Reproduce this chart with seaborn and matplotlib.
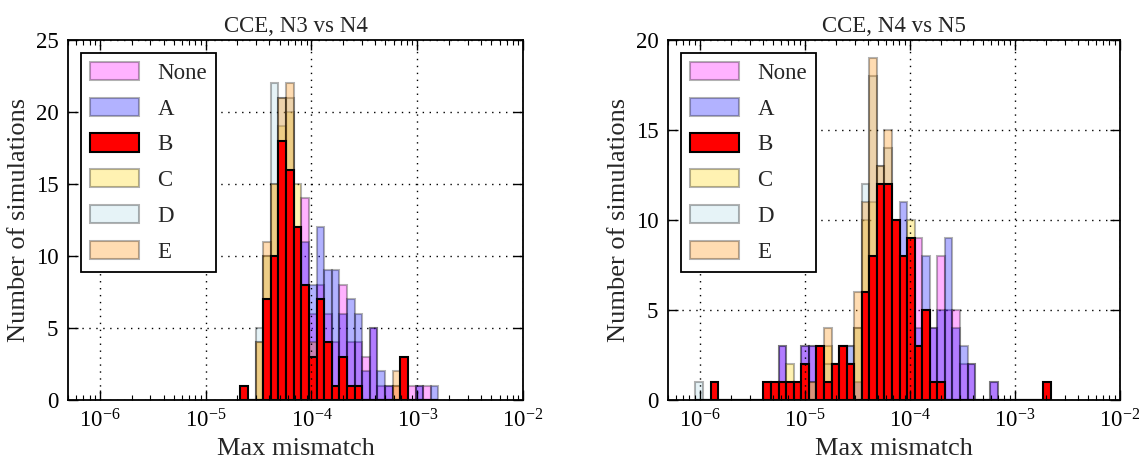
import numpy as np
import pandas as pd
import matplotlib
matplotlib.use("Agg")
import matplotlib.pyplot as plt
import seaborn as sns

# Series names and colours (legend order)
series = ["None", "A", "B", "C", "D", "E"]
colors = ["magenta", "blue", "red", "gold", "lightblue", "darkorange"]

# Histogram bins are equal steps in log10(mismatch): edge_k = 10**(log_start + log_step*k)
log_start = -5.896
log_step = 0.072

# ---- CCE, N3 vs N4 : counts per bin, bins k = 17..42
n3n4_bins = list(range(17, 43))
n3n4_none = [0, 0, 0, 0, 4, 9, 10, 9, 14, 6, 8, 6, 4, 8, 4, 4, 3, 5, 1, 1, 1, 0, 1, 1, 1, 0]
n3n4_a = [0, 0, 0, 0, 2, 5, 7, 8, 11, 8, 12, 9, 9, 6, 7, 6, 2, 5, 2, 1, 0, 1, 0, 1, 0, 1]
n3n4_b = [1, 0, 0, 7, 10, 18, 16, 12, 8, 3, 7, 4, 1, 3, 1, 1, 0, 0, 0, 0, 0, 3, 0, 0, 0, 0]
n3n4_c = [0, 0, 4, 10, 15, 19, 20, 15, 7, 2, 2, 1, 0, 1, 0, 0, 0, 0, 0, 0, 1, 0, 0, 0, 0, 0]
n3n4_d = [0, 0, 5, 10, 22, 21, 21, 12, 5, 2, 1, 0, 0, 0, 0, 0, 0, 0, 0, 0, 0, 0, 0, 0, 0, 0]
n3n4_e = [0, 0, 4, 11, 15, 21, 22, 12, 6, 4, 1, 1, 0, 2, 0, 0, 0, 0, 0, 0, 2, 0, 0, 0, 0, 0]

# ---- CCE, N4 vs N5 : counts per bin, bins k = -2..44
n4n5_bins = list(range(-2, 45))
n4n5_none = ([0, 0, 0, 0, 0, 0, 0, 0, 0, 0, 0] + [3, 0, 0, 3, 3, 0, 1, 0, 1, 2, 1]
             + [3, 5, 8, 8, 8, 7, 7, 9, 5, 4] + [8, 5, 5, 2, 2, 0, 0, 1, 0, 0, 0, 0, 0, 0, 0])
n4n5_a = ([0, 0, 0, 0, 0, 0, 0, 0, 0, 0, 0] + [3, 0, 0, 3, 3, 1, 1, 1, 1, 3, 1]
          + [3, 4, 6, 6, 7, 11, 5, 4, 8, 4] + [5, 9, 4, 3, 2, 0, 0, 1, 0, 0, 0, 0, 0, 0, 0])
n4n5_b = ([0, 0, 1, 0, 0, 0, 0, 0, 0, 1, 1] + [1, 1, 1, 2, 0, 3, 1, 2, 3, 2, 0]
          + [6, 8, 12, 12, 10, 8, 9, 3, 5, 1] + [1, 0, 0, 0, 0, 0, 0, 0, 0, 0, 0, 0, 0, 0, 1])
n4n5_c = ([0, 0, 0, 0, 0, 0, 0, 0, 0, 0, 1] + [0, 2, 1, 1, 1, 1, 3, 2, 2, 1, 4]
          + [10, 11, 10, 10, 9, 7, 10, 3, 2, 1] + [0] * 15)
n4n5_d = ([1, 0, 0, 0, 0, 0, 0, 0, 0, 0, 0] + [0, 0, 0, 0, 0, 0, 2, 2, 3, 3, 4]
          + [12, 18, 13, 14, 10, 6, 4, 2, 1, 0] + [0] * 15)
n4n5_e = ([0] * 11 + [0, 1, 0, 0, 1, 2, 4, 2, 3, 2, 6]
          + [11, 19, 13, 15, 9, 5, 3, 2, 1, 0] + [0] * 15)

titles = ["CCE, N3 vs N4", "CCE, N4 vs N5"]
ymaxes = [25, 20]

sns.set_style("white")
plt.rcParams.update({
    "font.family": ["Liberation Serif", "DejaVu Serif"],
    "mathtext.fontset": "stix",
    "xtick.direction": "in", "ytick.direction": "in",
    "xtick.top": True, "ytick.right": True,
    "xtick.bottom": True, "ytick.left": True,
    "xtick.major.size": 7, "ytick.major.size": 7,
    "xtick.minor.size": 3.5, "ytick.minor.size": 3.5,
    "xtick.major.width": 1, "ytick.major.width": 1,
    "xtick.minor.width": 0.8,
    "xtick.major.pad": 7, "ytick.major.pad": 7,
    "axes.edgecolor": "black", "axes.linewidth": 1.3,
    "xtick.color": "black", "ytick.color": "black",
})


def draw_panel(ax, bins, counts, title, ymax):
    bins = np.asarray(bins)
    edges = list(10 ** (log_start + log_step * np.arange(bins.min(), bins.max() + 2)))
    centers = 10 ** (log_start + log_step * (bins + 0.5))
    for name, col, cnt in zip(series, colors, counts):
        df = pd.DataFrame({"mismatch": centers, "n": cnt})
        if name == "B":
            sns.histplot(data=df, x="mismatch", weights="n", bins=edges, ax=ax,
                         color=col, alpha=1.0, edgecolor="black", linewidth=1.5,
                         label=name, zorder=3)
        else:
            sns.histplot(data=df, x="mismatch", weights="n", bins=edges, ax=ax,
                         color=col, alpha=0.3, edgecolor=(0, 0, 0, 0.3), linewidth=1.5,
                         label=name, zorder=2)
    ax.set_xscale("log")
    ax.set_xlim(5e-7, 1e-2)
    ax.set_ylim(0, ymax)
    ax.set_yticks(np.arange(0, ymax + 1, 5))
    ax.set_xticks([1e-6, 1e-5, 1e-4, 1e-3, 1e-2])
    ax.tick_params(axis="both", which="major", labelsize=16.5)
    ax.grid(True, which="major", color="black", linestyle=(0, (1, 4)), linewidth=1)
    # horizontal grid sits behind the bars, vertical grid on top
    ax.set_axisbelow(True)
    ax.xaxis.set_zorder(4)
    ax.set_title(title, fontsize=16.5)
    ax.set_xlabel("Max mismatch", fontsize=19)
    ax.set_ylabel("Number of simulations", fontsize=19)
    leg = ax.legend(loc="upper left", fontsize=16.5, fancybox=False, framealpha=1,
                    edgecolor="black", handlelength=2.15, handleheight=0.85,
                    labelspacing=0.6, borderaxespad=0.55, handletextpad=0.8)
    leg.set_zorder(6)
    leg.get_frame().set_linewidth(1.3)


fig = plt.figure(figsize=(11.39, 4.59), dpi=100)
ax1 = fig.add_axes([0.0597, 0.1285, 0.3995, 0.7845])
ax2 = fig.add_axes([0.5865, 0.1285, 0.3965, 0.7845])

draw_panel(ax1, n3n4_bins, [n3n4_none, n3n4_a, n3n4_b, n3n4_c, n3n4_d, n3n4_e],
           titles[0], ymaxes[0])
draw_panel(ax2, n4n5_bins, [n4n5_none, n4n5_a, n4n5_b, n4n5_c, n4n5_d, n4n5_e],
           titles[1], ymaxes[1])

fig.savefig("out.png", dpi=100)
